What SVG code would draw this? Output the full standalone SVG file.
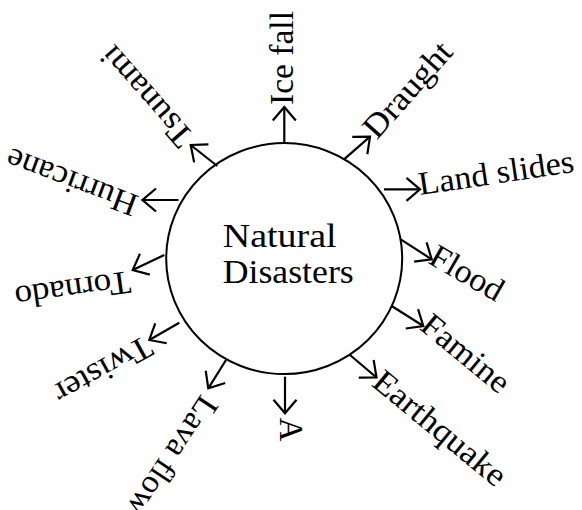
<svg xmlns="http://www.w3.org/2000/svg" width="582" height="510" viewBox="0 0 582 510">
  <style>
    .lbl { font-family: "Liberation Serif", "DejaVu Serif", serif; font-size: 33px; fill: #000; }
    .arr { fill: none; stroke: #000; stroke-width: 2.2; marker-end: url(#head); }
    .ring { fill: #fff; stroke: #000; stroke-width: 2; }
  </style>
  <defs>
    <marker id="head" viewBox="-16 -14 18 28" refX="0" refY="0" markerWidth="18" markerHeight="28" markerUnits="userSpaceOnUse" orient="auto">
      <path d="M-13.5,-11.5 L0,0 L-13.5,11.5" fill="none" stroke="#000" stroke-width="2.2" stroke-linejoin="miter"/>
    </marker>
  </defs>
  <rect width="582" height="510" fill="#fff"/>

  <g id="center">
    <ellipse class="ring" cx="284.2" cy="258.6" rx="118" ry="115.5"/>
    <text class="lbl" x="222.7" y="246.7" textLength="114" lengthAdjust="spacingAndGlyphs">Natural</text>
    <text class="lbl" x="222.7" y="283.3" textLength="131" lengthAdjust="spacingAndGlyphs">Disasters</text>
  </g>

  <g id="connectors">
    <line class="arr" x1="284.3" y1="143.3" x2="284.3" y2="107"/>
    <line class="arr" x1="344" y1="159.3" x2="370" y2="136.7"/>
    <line class="arr" x1="384" y1="189.3" x2="420" y2="189.3"/>
    <line class="arr" x1="400.7" y1="239.3" x2="431.7" y2="259.3"/>
    <line class="arr" x1="391.7" y1="306" x2="423.3" y2="326"/>
    <line class="arr" x1="350" y1="355" x2="376.5" y2="377.5"/>
    <line class="arr" x1="285" y1="376.7" x2="285" y2="413.3"/>
    <line class="arr" x1="226" y1="360" x2="208.3" y2="388.3"/>
    <line class="arr" x1="179.3" y1="322.7" x2="149.3" y2="340"/>
    <line class="arr" x1="164.3" y1="255" x2="132.7" y2="270"/>
    <line class="arr" x1="178.5" y1="200" x2="142.5" y2="200"/>
    <line class="arr" x1="217.3" y1="166" x2="190.7" y2="145"/>
  </g>

  <g id="ice-fall"><text class="lbl" transform="translate(293,105) rotate(-90)" textLength="94" lengthAdjust="spacingAndGlyphs">Ice fall</text></g>
  <g id="draught"><text class="lbl" transform="translate(376.8,140.6) rotate(-48.5)" textLength="117" lengthAdjust="spacingAndGlyphs">Draught</text></g>
  <g id="land-slides"><text class="lbl" transform="translate(420,195) rotate(-8.5)" textLength="157" lengthAdjust="spacingAndGlyphs">Land slides</text></g>
  <g id="flood"><text class="lbl" transform="translate(427,262.6) rotate(30)" textLength="79.6" lengthAdjust="spacingAndGlyphs">Flood</text></g>
  <g id="famine"><text class="lbl" transform="translate(418.5,328.4) rotate(39.5)" textLength="104.4" lengthAdjust="spacingAndGlyphs">Famine</text></g>
  <g id="earthquake"><text class="lbl" transform="translate(370.4,384.9) rotate(39.5)" textLength="162.4" lengthAdjust="spacingAndGlyphs">Earthquake</text></g>
  <g id="a"><text class="lbl" transform="translate(280,417.5) rotate(90)" textLength="24" lengthAdjust="spacingAndGlyphs">A</text></g>
  <g id="lava-flow"><text class="lbl" transform="translate(201.3,393.6) rotate(123.5)" textLength="136.4" lengthAdjust="spacingAndGlyphs">Lava flow</text></g>
  <g id="twister"><text class="lbl" transform="translate(144.8,334.8) rotate(151)" textLength="106.9" lengthAdjust="spacingAndGlyphs">Twister</text></g>
  <g id="tornado"><text class="lbl" transform="translate(128.9,271) rotate(172)" textLength="116.5" lengthAdjust="spacingAndGlyphs">Tornado</text></g>
  <g id="hurricane"><text class="lbl" transform="translate(140.1,196.4) rotate(200.7)" textLength="138" lengthAdjust="spacingAndGlyphs">Hurricane</text></g>
  <g id="tsunami"><text class="lbl" transform="translate(194.9,135.4) rotate(228.8)" textLength="122.8" lengthAdjust="spacingAndGlyphs">Tsunami</text></g>
</svg>
